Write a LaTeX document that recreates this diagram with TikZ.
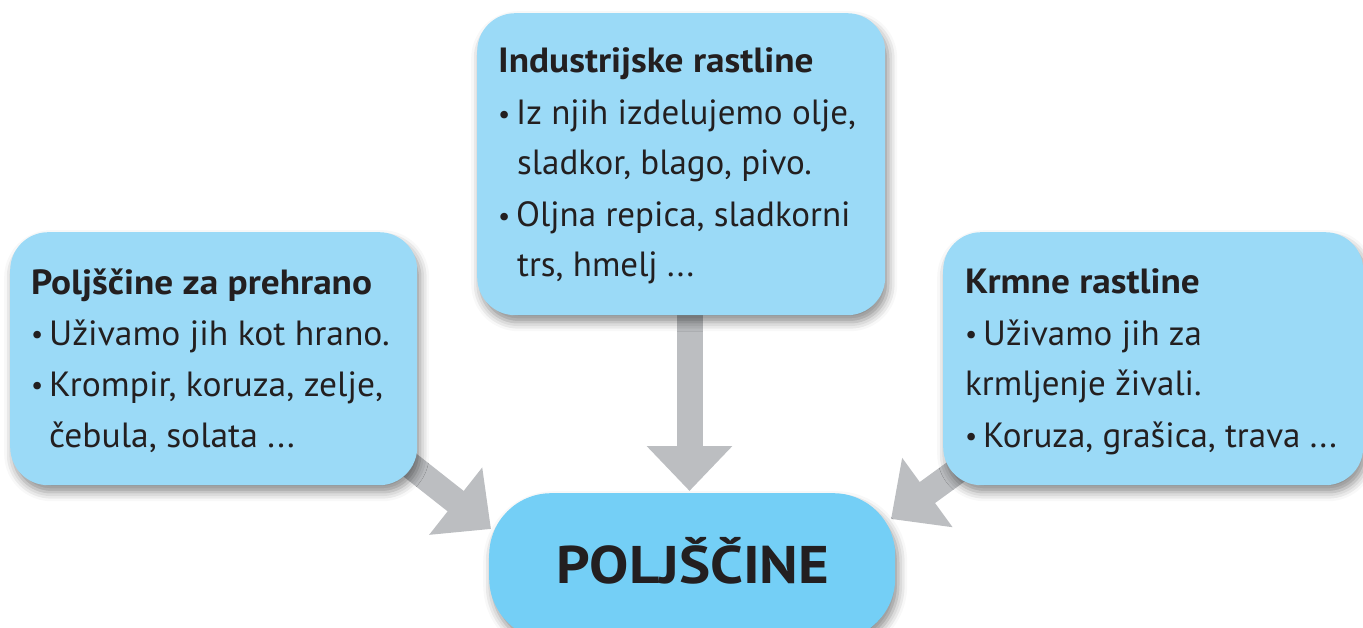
\documentclass[tikz,border=0pt]{standalone}
\usepackage{fontspec}
\usepackage{graphicx}
\setmainfont{PT Sans}
\usetikzlibrary{arrows.meta,shadows.blur}
\definecolor{boxblue}{HTML}{9BDAF7}
\definecolor{mainblue}{HTML}{74CFF6}
\definecolor{arrowgray}{HTML}{BCBEC1}
\definecolor{ink}{HTML}{231F20}
\tikzset{
  card/.style={fill=boxblue, draw=none, rounded corners=38pt, anchor=north west, inner sep=0pt,
    blur shadow={shadow xshift=3pt, shadow yshift=-7pt, shadow blur radius=9pt, shadow opacity=45}},
  maincard/.style={fill=mainblue, draw=none, rounded corners=62pt, anchor=north west, inner sep=0pt,
    blur shadow={shadow xshift=3pt, shadow yshift=-7pt, shadow blur radius=9pt, shadow opacity=45}},
  headtxt/.style={anchor=base west, inner sep=0pt, text=ink, font=\bfseries\fontsize{35}{40}\selectfont},
  linetxt/.style={anchor=base west, inner sep=0pt, text=ink, font=\fontsize{35}{40}\selectfont},
  bigtxt/.style={anchor=base, inner sep=0pt, text=ink, font=\bfseries\fontsize{53}{60}\selectfont},
  flow/.style={draw=arrowgray, line width=26pt, line cap=butt, -{Triangle[width=83pt,length=45pt]}},
}
\newcommand{\bul}{\makebox[18pt][l]{\raisebox{1.5pt}{\fontsize{27}{30}\selectfont•}}}
\newcommand{\wideh}[1]{\scalebox{1.065}[1]{#1}}
\newcommand{\wideb}[1]{\scalebox{1.015}[1]{#1}}
\begin{document}
\begin{tikzpicture}[x=1pt,y=-1pt]
\useasboundingbox (0,0) rectangle (1363,628);
% arrow endpoints
\coordinate (ls) at (373,436);
\coordinate (lt) at (491,529);
\coordinate (ts) at (689.5,290);
\coordinate (tt) at (689.5,491);
\coordinate (rs) at (1012,431);
\coordinate (rt) at (891,519);
\draw[flow] (ls) -- (lt);
\draw[flow] (ts) -- (tt);
\draw[flow] (rs) -- (rt);
% boxes
\node[card, minimum width=407pt, minimum height=253pt] (food) at (10,232) {};
\node[card, minimum width=408pt, minimum height=302pt] (ind) at (477,13) {};
\node[card, minimum width=420pt, minimum height=253pt] (feed) at (943,232) {};
\node[maincard, minimum width=406pt, minimum height=147pt] (crops) at (489,493) {};
% texts left
\node[headtxt] (fh) at (31,295) {\wideh{Poljščine za prehrano}};
\node[linetxt] (f1) at (31,345) {\bul\wideb{Uživamo jih kot hrano.}};
\node[linetxt] (f2) at (31,396) {\bul\wideb{Krompir, koruza, zelje,}};
\node[linetxt] (f3) at (49,447) {\wideb{čebula, solata ...}};
% texts top
\node[headtxt] (ih) at (498,73) {\wideh{Industrijske rastline}};
\node[linetxt] (i1) at (498,125) {\bul Iz njih izdelujemo olje,};
\node[linetxt] (i2) at (517,175) {sladkor, blago, pivo.};
\node[linetxt] (i3) at (498,227) {\bul Oljna repica, sladkorni};
\node[linetxt] (i4) at (517,277) {trs, hmelj ...};
% texts right
\node[headtxt] (kh) at (965,294) {\wideh{Krmne rastline}};
\node[linetxt] (k1) at (965,345) {\bul Uživamo jih za};
\node[linetxt] (k2) at (965,395) {krmljenje živali.};
\node[linetxt] (k3) at (965,447) {\bul Koruza, grašica, trava ...};
% main
\node[bigtxt] (mt) at (693,583) {\scalebox{1.11}[1]{POLJŠČINE}};
\end{tikzpicture}
\end{document}
